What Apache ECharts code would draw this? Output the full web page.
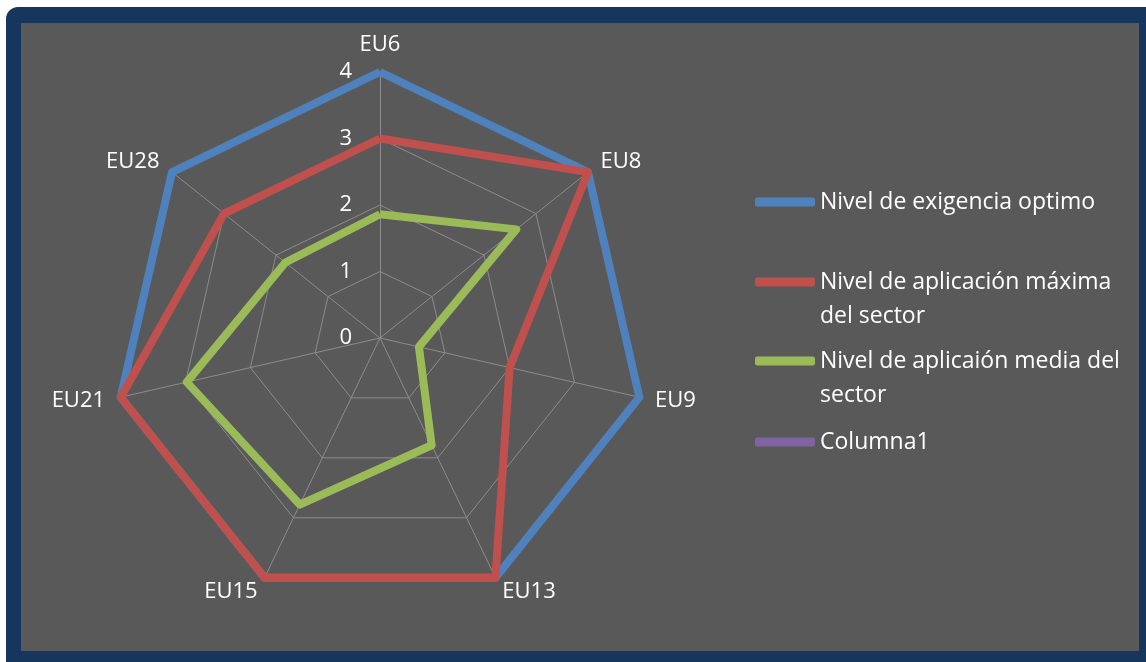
<!DOCTYPE html>
<html>
<head>
<meta charset="utf-8">
<script src="https://cdn.jsdelivr.net/npm/echarts@6/dist/echarts.min.js"></script>
<style>
  html, body { margin: 0; padding: 0; background: #fff; }
  #frame {
    position: absolute; left: 6px; top: 7px;
    width: 1118px; height: 628px;
    background: #595959;
    border-style: solid; border-color: #17365d;
    border-width: 16px 7px 11px 15px;
    border-top-left-radius: 12px;
  }
  #chart { position: absolute; left: 0; top: 0; width: 1146px; height: 662px; }
</style>
</head>
<body>
<div id="frame"></div>
<div id="chart"></div>
<script>
// indicators listed clockwise from the top
const categories = ['EU6', 'EU8', 'EU9', 'EU13', 'EU15', 'EU21', 'EU28'];
const optimo = [4, 4, 4, 4, 4, 4, 4];
const maxima = [3, 4, 2, 4, 4, 4, 3];
const media = [1.86, 2.62, 0.6, 1.79, 2.78, 2.98, 1.82];
const ticks = ['0', '1', '2', '3', '4'];

const seriesNames = [
  'Nivel de exigencia optimo',
  'Nivel de aplicación máxima del sector',
  'Nivel de aplicaión media del sector',
  'Columna1'
];
// leading blank line keeps the icon level with the first text line
const legendLabels = [
  'Nivel de exigencia optimo',
  '\nNivel de aplicación máxima\ndel sector',
  '\nNivel de aplicaión media del\nsector',
  'Columna1'
];
const colors = ['#4f81bd', '#c0504d', '#9bbb59', '#8064a2'];

// echarts places radar axes counter-clockwise, so reorder
const order = [0, 6, 5, 4, 3, 2, 1];
const pick = arr => order.map(i => arr[i]);

const chart = echarts.init(document.getElementById('chart'));

const font = '"Open Sans", Lato, sans-serif';
const legendTops = [180, 226, 305, 420];

const option = {
  animation: false,
  textStyle: { fontFamily: font },
  legend: seriesNames.map((n, i) => ({
    left: 750,
    top: legendTops[i],
    orient: 'vertical',
    data: [n],
    icon: 'roundRect',
    itemWidth: 60,
    itemHeight: 9,
    selectedMode: false,
    formatter: () => legendLabels[i],
    textStyle: { color: '#fff', fontSize: 23, fontFamily: font, lineHeight: 34 }
  })),
  radar: {
    center: [380, 338],
    radius: 266,
    shape: 'polygon',
    splitNumber: 4,
    axisNameGap: 16,
    axisName: { color: '#fff', fontSize: 22, fontFamily: font },
    indicator: pick(categories).map((c, i) => {
      const ind = { name: c, min: 0, max: 4 };
      if (i === 0) {
        ind.axisLabel = {
          show: true, color: '#fff', fontSize: 22, fontFamily: font,
          margin: 28, showMinLabel: true,
          formatter: v => ticks[v]
        };
      }
      return ind;
    }),
    axisLabel: { show: false },
    axisTick: { show: false },
    axisLine: { lineStyle: { color: '#8c8c8c', width: 1 } },
    splitLine: { lineStyle: { color: '#8c8c8c', width: 1 } },
    splitArea: { show: false }
  },
  series: [optimo, maxima, media, []].map((vals, i) => ({
    type: 'radar',
    name: seriesNames[i],
    symbol: 'none',
    lineStyle: { color: colors[i], width: 8 },
    itemStyle: { color: colors[i] },
    data: [{ name: seriesNames[i], value: vals.length ? pick(vals) : [] }]
  }))
};

chart.setOption(option);
</script>
</body>
</html>
